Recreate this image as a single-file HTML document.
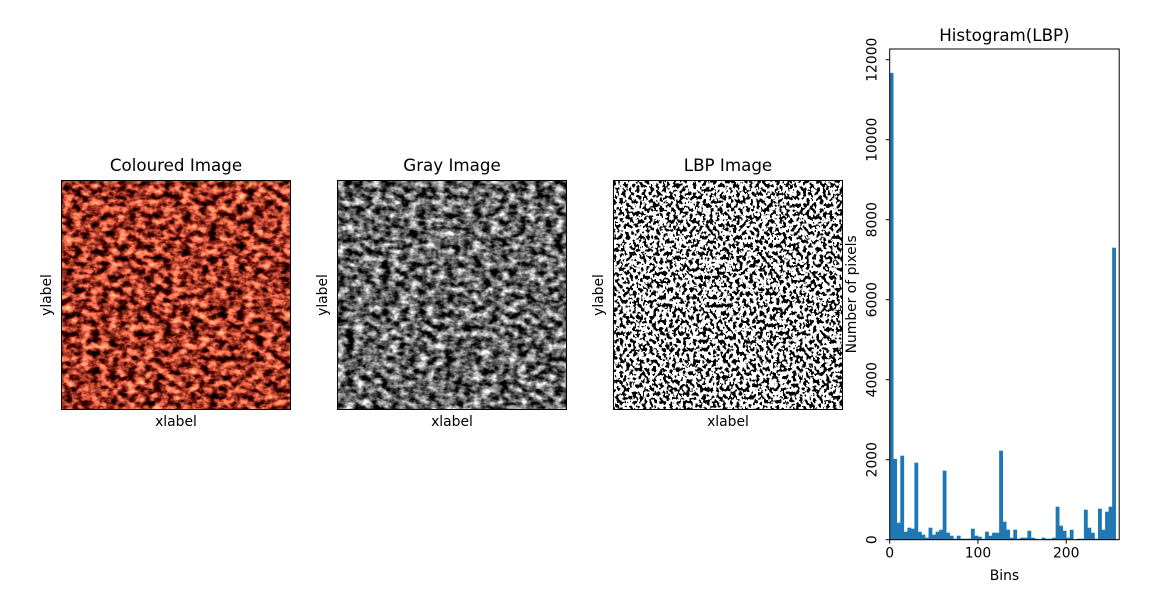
<!DOCTYPE html>
<html><head><meta charset="utf-8"><style>
body{margin:0;background:#fff;}
svg{display:block;font-family:"DejaVu Sans","Liberation Sans",sans-serif;}
</style></head><body>
<svg id="fig" width="1153" height="600" viewBox="0 0 1153 600" xmlns="http://www.w3.org/2000/svg">
<defs>
<filter id="fColor" x="0" y="0" width="100%" height="100%" color-interpolation-filters="sRGB">
  <feTurbulence type="fractalNoise" baseFrequency="0.11 0.16" numOctaves="3" seed="3" result="t"/>
  <feColorMatrix in="t" type="matrix" values="2.6 0 0 0 -0.66  1.6 0 0 0 -0.58  1.2 0 0 0 -0.45  0 0 0 0 1"/>
</filter>
<filter id="fGray" x="0" y="0" width="100%" height="100%" color-interpolation-filters="sRGB">
  <feTurbulence type="fractalNoise" baseFrequency="0.11 0.16" numOctaves="3" seed="3" result="t"/>
  <feColorMatrix in="t" type="matrix" values="1.9 0 0 0 -0.55  1.9 0 0 0 -0.55  1.9 0 0 0 -0.55  0 0 0 0 1"/>
</filter>
<filter id="fLbp" x="0" y="0" width="100%" height="100%" color-interpolation-filters="sRGB">
  <feTurbulence type="fractalNoise" baseFrequency="0.3 0.25" numOctaves="2" seed="7" result="t"/>
  <feColorMatrix in="t" type="matrix" values="1 0 0 0 0.03  1 0 0 0 0.03  1 0 0 0 0.03  0 0 0 0 1" result="g"/>
  <feComponentTransfer in="g"><feFuncR type="discrete" tableValues="0 1"/><feFuncG type="discrete" tableValues="0 1"/><feFuncB type="discrete" tableValues="0 1"/></feComponentTransfer>
</filter>
</defs>

<g>
<text x="176" y="171" font-size="16.7" text-anchor="middle">Coloured Image</text>
<rect x="61" y="180" width="230" height="230" fill="#a84828" filter="url(#fColor)"/>
<rect x="61.5" y="180.5" width="229" height="229" fill="none" stroke="#000"/>
<text x="176" y="426" font-size="13.9" text-anchor="middle">xlabel</text>
<text transform="translate(51,295) rotate(-90)" font-size="13.9" text-anchor="middle">ylabel</text>
</g>

<g>
<text x="452" y="171" font-size="16.7" text-anchor="middle">Gray Image</text>
<rect x="337" y="180" width="230" height="230" fill="#666" filter="url(#fGray)"/>
<rect x="337.5" y="180.5" width="229" height="229" fill="none" stroke="#000"/>
<text x="452" y="426" font-size="13.9" text-anchor="middle">xlabel</text>
<text transform="translate(327,295) rotate(-90)" font-size="13.9" text-anchor="middle">ylabel</text>
</g>

<g>
<text x="728" y="171" font-size="16.7" text-anchor="middle">LBP Image</text>
<rect x="613" y="180" width="230" height="230" fill="#888" filter="url(#fLbp)"/>
<rect x="613.5" y="180.5" width="229" height="229" fill="none" stroke="#000"/>
<text x="728" y="426" font-size="13.9" text-anchor="middle">xlabel</text>
<text transform="translate(603,295) rotate(-90)" font-size="13.9" text-anchor="middle">ylabel</text>
</g>

<g id="hist"></g>
</svg>
<script>
const binCounts = [11670,2017,425,2100,200,300,275,1925,200,125,50,300,125,200,250,1725,
175,100,25,100,25,25,25,275,100,75,25,200,100,175,175,2225,
450,250,50,250,25,50,50,225,50,25,0,50,25,25,50,825,
350,225,50,250,0,25,25,750,300,175,25,775,250,700,825,7300];
const binWidth = 4;
const xTicks = [0,100,200];
const yTicks = [0,2000,4000,6000,8000,10000,12000];

const NS='http://www.w3.org/2000/svg';
const L=889.7,R=1119.2,T=49,B=539.7;
const xMax=260, yMax=(B-T)/0.04;
const X=v=>L+v/xMax*(R-L);
const Y=v=>B-v/yMax*(B-T);
const g=document.getElementById('hist');
function el(tag,attrs,parent){const e=document.createElementNS(NS,tag);for(const k in attrs)e.setAttribute(k,attrs[k]);(parent||g).appendChild(e);return e;}

const bars=el('g',{});


binCounts.forEach((c,i)=>{
  const x0=X(i*binWidth),x1=X((i+1)*binWidth);
  const r=el('rect',{x:x0,y:Y(c),width:x1-x0+0.3,height:B-Y(c),fill:'#1f77b4'},bars);
  
  
});
const frame=el('rect',{x:L,y:T,width:R-L,height:B-T,fill:'none',stroke:'#000','stroke-width':1});



xTicks.forEach(v=>{
  const x=X(v);
  const t=el('line',{x1:x,x2:x,y1:B,y2:B+4,stroke:'#000'});
  
  
  const lb=el('text',{x:x,y:B+18,'font-size':13.9,'text-anchor':'middle'});
  lb.textContent=v;
  
  
});
yTicks.forEach(v=>{
  const y=Y(v);
  const t=el('line',{x1:L-4,x2:L,y1:y,y2:y,stroke:'#000'});
  
  
  const lb=el('text',{transform:`translate(${L-13},${y}) rotate(-90)`,'font-size':13.9,'text-anchor':'middle'});
  lb.textContent=v;
  
  
});
const title=el('text',{x:(L+R)/2,y:41,'font-size':16.7,'text-anchor':'middle'});
title.textContent='Histogram(LBP)';


const xl=el('text',{x:(L+R)/2,y:580,'font-size':13.9,'text-anchor':'middle'});
xl.textContent='Bins';


const yl=el('text',{transform:`translate(856,${(T+B)/2}) rotate(-90)`,'font-size':13.9,'text-anchor':'middle'});
yl.textContent='Number of pixels';


</script>
</body></html>
